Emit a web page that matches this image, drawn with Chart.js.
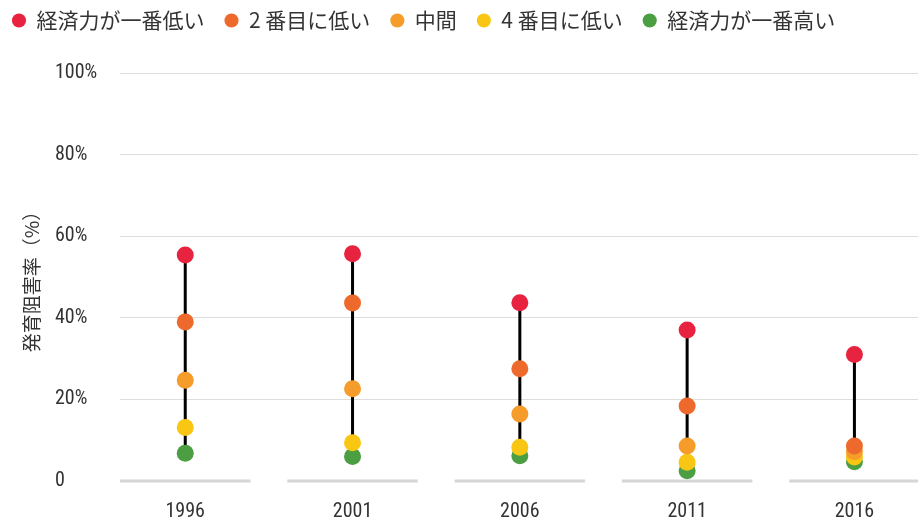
<!DOCTYPE html>
<html>
<head>
<meta charset="utf-8">
<script src="https://cdn.jsdelivr.net/npm/chart.js@4/dist/chart.umd.min.js"></script>
<style>
html,body{margin:0;padding:0;background:#fff;overflow:hidden;}
#wrap{width:918px;height:521px;position:relative;}
</style>
</head>
<body>
<div id="wrap"><canvas id="c"></canvas></div>
<script>
const categories = ['1996', '2001', '2006', '2011', '2016'];
const seriesNames = ['経済力が一番低い', '2 番目に低い', '中間', '4 番目に低い', '経済力が一番高い'];
const lowest  = [55.4, 55.7, 43.7, 37.0, 31.0];
const second  = [39.0, 43.6, 27.5, 18.4, 8.6];
const middle  = [24.7, 22.6, 16.4, 8.6, 7.2];
const fourth  = [13.1, 9.4, 8.3, 4.6, 5.9];
const highest = [6.8, 6.0, 6.2, 2.5, 4.7];
const yTicks = [0, 20, 40, 60, 80, 100];
const yTitle = '発育阻害率（%）';

const colors = ['#E8233F', '#EE6A2C', '#F59C2B', '#F9C613', '#4B9E42'];
const allSeries = [lowest, second, middle, fourth, highest];

const tickFont = {family: "'Liberation Sans Narrow','Roboto Condensed','DejaVu Sans Condensed',sans-serif", size: 20};
const cjkFont = "'Noto Sans CJK JP','Noto Sans',sans-serif";

const pointSets = allSeries.map((vals, s) => ({
  type: 'line',
  label: seriesNames[s],
  data: vals.map((v, i) => ({x: i, y: v})),
  showLine: false,
  backgroundColor: colors[s],
  borderColor: colors[s],
  pointBackgroundColor: colors[s],
  pointBorderColor: colors[s],
  pointBorderWidth: 0,
  pointRadius: 8.5,
  pointHoverRadius: 8.5,
  pointStyle: 'circle',
  order: s
}));

const connectorSets = categories.map((c, i) => {
  const vals = allSeries.map(a => a[i]);
  return {
    type: 'line',
    label: '',
    data: [{x: i, y: Math.max(...vals)}, {x: i, y: Math.min(...vals)}],
    borderColor: '#000',
    borderWidth: 3,
    pointRadius: 0,
    pointHoverRadius: 0,
    order: 20
  };
});

const baseSegments = {
  id: 'baseSegments',
  beforeDatasetsDraw(chart) {
    const {ctx, scales: {x, y}} = chart;
    const step = x.getPixelForValue(1) - x.getPixelForValue(0);
    const half = step * 0.39;
    const py = y.getPixelForValue(0);
    ctx.save();
    ctx.strokeStyle = '#d6d6d6';
    ctx.lineWidth = 3;
    categories.forEach((c, i) => {
      const px = x.getPixelForValue(i);
      ctx.beginPath();
      ctx.moveTo(px - half, py);
      ctx.lineTo(px + half, py);
      ctx.stroke();
    });
    ctx.restore();
  }
};

const legendSpacer = {
  id: 'legendSpacer',
  beforeInit(chart) {
    const lg = chart.legend;
    const orig = lg.fit;
    lg.fit = function() { orig.call(this); this.height = 83; };
  }
};

new Chart(document.getElementById('c'), {
  type: 'line',
  data: {datasets: [...pointSets, ...connectorSets]},
  options: {
    responsive: true,
    maintainAspectRatio: false,
    animation: false,
    layout: {autoPadding: false, padding: {top: -10, left: -8, right: 0, bottom: 0}},
    plugins: {
      tooltip: {enabled: false},
      legend: {
        position: 'top',
        align: 'start',
        labels: {
          usePointStyle: true,
          pointStyle: 'circle',
          boxWidth: 14,
          boxHeight: 10,
          padding: 20,
          color: '#333',
          font: {family: cjkFont, size: 21},
          filter: (item) => item.datasetIndex < seriesNames.length
        }
      }
    },
    scales: {
      x: {
        type: 'linear',
        min: -0.39,
        max: 4.38,
        grid: {display: false},
        border: {display: false},
        afterBuildTicks: (s) => { s.ticks = categories.map((c, i) => ({value: i})); },
        ticks: {
          callback: (v) => categories[v],
          color: '#333',
          font: tickFont,
          padding: 11,
          maxRotation: 0,
          autoSkip: false
        },
        afterFit: (s) => { s.height = 40; s.paddingLeft = 0; s.paddingRight = 0; }
      },
      yTitle: {
        type: 'linear',
        position: 'left',
        weight: 1,
        display: true,
        min: 0, max: 100,
        grid: {display: false},
        border: {display: false},
        ticks: {display: false},
        title: {
          display: true,
          text: yTitle,
          color: '#333',
          font: {family: cjkFont, size: 19},
          padding: {top: 28, bottom: 0}
        },
        afterFit: (s) => { s.width = 63; }
      },
      y: {
        type: 'linear',
        position: 'left',
        weight: 0,
        min: 0,
        max: 100,
        afterBuildTicks: (s) => { s.ticks = yTicks.map(v => ({value: v})); },
        grid: {
          drawTicks: false,
          color: (c) => (c.tick && c.tick.value === 0) ? 'rgba(0,0,0,0)' : '#dddddd',
          lineWidth: 1
        },
        border: {display: false},
        ticks: {
          crossAlign: 'far',
          color: '#333',
          font: tickFont,
          callback: (v) => v === 0 ? '0' : v + '%'
        },
        afterFit: (s) => { s.width = 65; }
      }
    }
  },
  plugins: [baseSegments, legendSpacer]
});
</script>
</body>
</html>
